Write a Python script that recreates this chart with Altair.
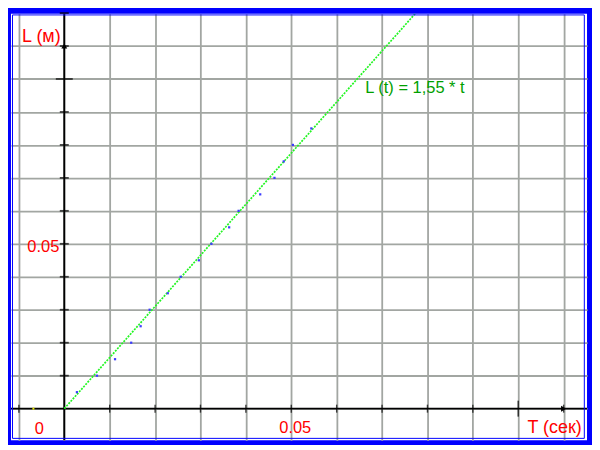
import altair as alt
import pandas as pd

# ---- data ----
t_meas = [0.00278, 0.0072, 0.01118, 0.01474, 0.01682, 0.0188, 0.0228, 0.02564,
          0.02964, 0.03241, 0.03632, 0.0384, 0.04316, 0.0463, 0.04835, 0.05036, 0.05442]
L_meas = [0.005, 0.010, 0.015, 0.020, 0.025, 0.030, 0.035, 0.040, 0.045,
          0.050, 0.055, 0.060, 0.065, 0.070, 0.075, 0.080, 0.085]
fit_k = 1.55
fit_t = [0.0, 0.08]
fit_L = [fit_k * v for v in fit_t]
marker_t = [-0.0068]
marker_L = [0.0]

grid_t = [-0.01, 0.0, 0.01, 0.02, 0.03, 0.04, 0.05, 0.06, 0.07, 0.08, 0.09, 0.10, 0.11]
grid_L = [0.0, 0.01, 0.02, 0.03, 0.04, 0.05, 0.06, 0.07, 0.08, 0.09, 0.10, 0.11]
x_minor = [-0.01, 0.01, 0.02, 0.03, 0.04, 0.05, 0.06, 0.07, 0.08, 0.09, 0.11]
x_major = [0.10]
y_minor = [0.01, 0.02, 0.03, 0.04, 0.05, 0.06, 0.07, 0.08, 0.09, 0.11, 0.12]
y_major = [0.10]
arrow_end = 0.11

x_label = "T (сек)"
y_label = "L (м)"
eq_label = "L (t) = 1,55 * t"
eq_t = [0.07724]
eq_L = [0.09563]

W, H = 578, 428
FONT = "Liberation Sans"
RED = "#ff0000"

xs = alt.Scale(domain=[-0.01174, 0.11515], nice=False, zero=False)
ys = alt.Scale(domain=[-0.00959, 0.11979], nice=False, zero=False)
x_axis = alt.Axis(values=grid_t, grid=True, gridColor="#a2a6a2", gridWidth=1.8,
                  labels=False, ticks=False, domain=False, title=None)
y_axis = alt.Axis(values=grid_L, grid=True, gridColor="#a2a6a2", gridWidth=1.8,
                  labels=False, ticks=False, domain=False, title=None)


def X(f):
    return alt.X(f"{f}:Q", scale=xs, axis=x_axis)


def Y(f):
    return alt.Y(f"{f}:Q", scale=ys, axis=y_axis)


meas = pd.DataFrame({"t": t_meas, "L": L_meas})
fit = pd.DataFrame({"t": fit_t, "L": fit_L})
zero = pd.DataFrame({"v": [0.0]})
xmin = pd.DataFrame({"t": x_minor, "L": [0.0] * len(x_minor)})
xmaj = pd.DataFrame({"t": x_major, "L": [0.0] * len(x_major)})
ymin = pd.DataFrame({"t": [0.0] * len(y_minor), "L": y_minor})
ymaj = pd.DataFrame({"t": [0.0] * len(y_major), "L": y_major})
arr_x = pd.DataFrame({"t": [arrow_end], "L": [0.0]})
arr_y = pd.DataFrame({"t": [0.0], "L": [arrow_end]})
mark = pd.DataFrame({"t": marker_t, "L": marker_L})
origin = pd.DataFrame({"t": [0.0], "L": [0.0], "s": ["0"]})
x05 = pd.DataFrame({"t": [0.05], "L": [0.0], "s": ["0.05"]})
y05 = pd.DataFrame({"t": [0.0], "L": [0.05], "s": ["0.05"]})
xt = pd.DataFrame({"t": [0.10], "L": [0.0], "s": [x_label]})
yt = pd.DataFrame({"t": [0.0], "L": [0.11], "s": [y_label]})
eq = pd.DataFrame({"t": eq_t, "L": eq_L, "s": [eq_label]})

base_pts = alt.Chart(meas).mark_square(size=5, color="#3c3cff", opacity=1).encode(x=X("t"), y=Y("L"))

hrule = alt.Chart(zero).mark_rule(color="black", strokeWidth=1.9).encode(y=Y("v"))
vrule = alt.Chart(zero).mark_rule(color="black", strokeWidth=1.9).encode(x=X("v"))

xt_min = alt.Chart(xmin).mark_tick(orient="vertical", size=8, thickness=1.4, color="black").encode(x=X("t"), y=Y("L"))
xt_maj = alt.Chart(xmaj).mark_tick(orient="vertical", size=16, thickness=1.6, color="black").encode(x=X("t"), y=Y("L"))
yt_min = alt.Chart(ymin).mark_tick(orient="horizontal", size=9, thickness=1.8, color="black").encode(x=X("t"), y=Y("L"))
yt_maj = alt.Chart(ymaj).mark_tick(orient="horizontal", size=17, thickness=1.8, color="black").encode(x=X("t"), y=Y("L"))

ax_arrow = alt.Chart(arr_x).mark_point(shape="triangle-right", filled=True, size=36, color="black", opacity=1).encode(x=X("t"), y=Y("L"))
ay_arrow = alt.Chart(arr_y).mark_point(shape="triangle-up", filled=True, size=36, color="black", opacity=1).encode(x=X("t"), y=Y("L"))

fit_line = alt.Chart(fit).mark_line(color="#22f522", strokeWidth=1.7, strokeDash=[2, 1.2], clip=True).encode(x=X("t"), y=Y("L"))

yellow = alt.Chart(mark).mark_square(size=4, color="#e8e800", opacity=1).encode(x=X("t"), y=Y("L"))


def label(df, color, align, dx, dy, size=16.5):
    return alt.Chart(df).mark_text(font=FONT, fontSize=size, color=color, align=align,
                                   baseline="alphabetic", dx=dx, dy=dy).encode(
        x=X("t"), y=Y("L"), text="s:N")


t0 = label(origin, RED, "center", -25, 25)
t1 = label(x05, RED, "center", 4, 24.4)
t2 = label(y05, RED, "right", -5, 8.4)
t3 = label(xt, RED, "center", 36.5, 24.6, size=18)
t4 = label(yt, RED, "center", -23, -4.5, size=18)
t5 = label(eq, "#00a000", "center", 0, 0)

border = alt.Chart(zero).mark_rect(fillOpacity=0, stroke="#0000ff", strokeWidth=1).encode(
    x=alt.value(1.5), x2=alt.value(W - 2.7), y=alt.value(1.2), y2=alt.value(H - 1.9))

chart = alt.layer(
    hrule, vrule, xt_min, xt_maj, yt_min, yt_maj, ax_arrow, ay_arrow,
    fit_line, base_pts, yellow, t0, t1, t2, t3, t4, t5, border
).properties(
    width=W, height=H,
    background="#0000ff",
    padding={"left": 2, "top": 3, "right": 4, "bottom": 3},
).configure_view(fill="white", stroke=None)

chart.save("out.html", embed_options={"renderer": "svg", "actions": False})
